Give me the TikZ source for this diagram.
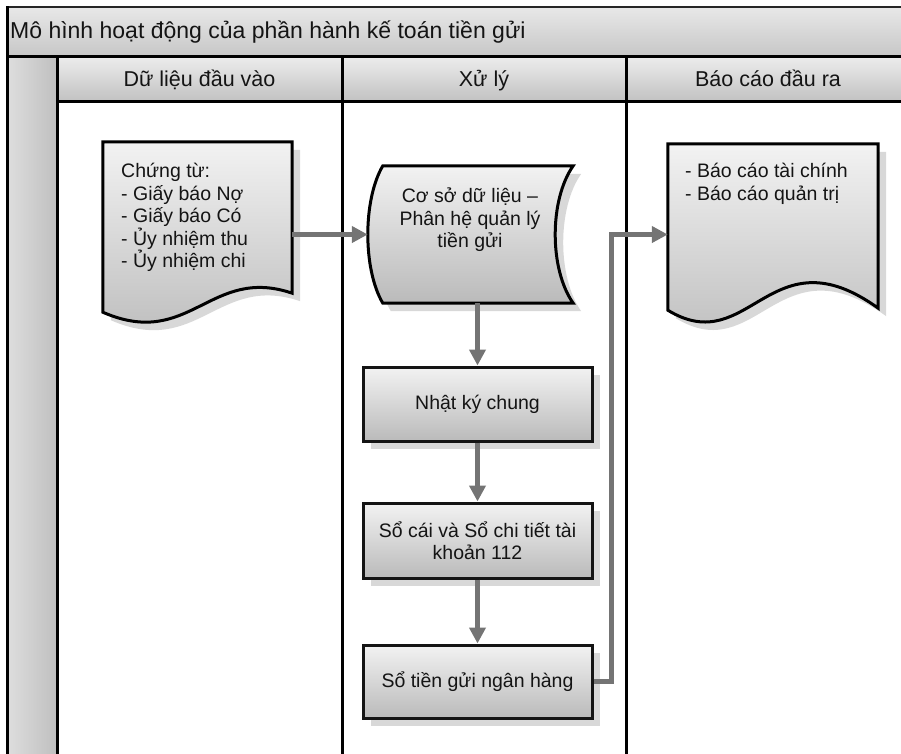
\documentclass[tikz,border=0pt]{standalone}
\usepackage{fontspec}
\setmainfont{Liberation Sans}
\usepackage{tikz}
\usetikzlibrary{arrows.meta,calc,positioning}
\definecolor{fgray}{HTML}{747474}
\definecolor{sgray}{HTML}{D8D8D8}
\tikzset{
  >={Triangle[length=16pt,width=16pt]},
  lline/.style={black, line width=3pt},
  ltitle/.style={top color=black!9, bottom color=black!22},
  lhead/.style={top color=black!7, bottom color=black!24},
  lside/.style={left color=black!13, right color=black!25},
  ftitle/.style={black!92, font=\fontsize{23}{26}\selectfont, inner sep=0pt},
  fhead/.style={black!92, font=\fontsize{21.5}{24}\selectfont, inner sep=0pt, anchor=base},
  fbody/.style={black!92, font=\fontsize{19.5}{22.5}\selectfont, align=left, inner sep=0pt},
  pshadow/.style={fill=sgray, draw=none, transform canvas={xshift=8pt, yshift=-8pt}},
  pshape/.style={draw=black, line width=3pt, top color=black!5, bottom color=black!27},
  pbox/.style={rectangle, pshape, minimum width=229, minimum height=74,
               align=center, inner sep=4pt, black!92, font=\fontsize{19.5}{22.5}\selectfont},
  pframe/.style={rectangle, draw=none, inner sep=0pt},
  pflow/.style={->, draw=fgray, line width=4.5pt},
}

\begin{document}
\begin{tikzpicture}[x=1pt,y=-1pt]
  \useasboundingbox (0,0) rectangle (901,753);

  % khung: tieu de, cot trai, cac lan
  \path[lside] (7,56) rectangle (57,760);
  \path[ltitle] (7,7) rectangle (910,56);
  \node[ftitle, anchor=west] (tieude) at (10,32) {Mô hình hoạt động của phần hành kế toán tiền gửi};
  \foreach \xa/\xb/\tenlan [count=\i] in {%
      57/342/{Dữ liệu đầu vào},
      342/626/{Xử lý},
      626/910/{Báo cáo đầu ra}}
  {
    \path[lhead] (\xa,56) rectangle (\xb,101);
    \node[fhead] (lan\i) at ({(\xa+\xb)/2},86) {\tenlan};
  }
  \draw[black!85, line width=2pt] (7,7) -- (910,7);
  \draw[lline] (7,56) -- (910,56);
  \draw[lline] (57,101) -- (910,101);
  \draw[lline] (7,6) -- (7,760);
  \foreach \x in {57,342,626}
    \draw[lline] (\x,56) -- (\x,760);

  % chung tu (van ban)
  \node[pframe, minimum width=189, minimum height=170] (chungtu) at (197.5,227) {};
  \path[pshadow] (chungtu.north west) -- (chungtu.north east) -- ($(chungtu.south east)+(0,-19)$)
    .. controls ($(chungtu.south west)+(107,-47)$) and ($(chungtu.south west)+(87,38)$) .. (chungtu.south west) -- cycle;
  \path[pshape] (chungtu.north west) -- (chungtu.north east) -- ($(chungtu.south east)+(0,-19)$)
    .. controls ($(chungtu.south west)+(107,-47)$) and ($(chungtu.south west)+(87,38)$) .. (chungtu.south west) -- cycle;
  \node[fbody, anchor=north west] (chungtu-txt) at (121,163)
    {Chứng từ:\\- Giấy báo Nợ\\- Giấy báo Có\\- Ủy nhiệm thu\\- Ủy nhiệm chi};

  % co so du lieu
  \node[pframe, minimum width=205, minimum height=137] (csdl) at (470.5,234.5) {};
  \path[pshadow] ($(csdl.north west)+(15,0)$) -- (csdl.north east)
    .. controls ($(csdl.north east)+(-24,34)$) and ($(csdl.south east)+(-24,-34)$) .. (csdl.south east)
    -- ($(csdl.south west)+(15,0)$)
    .. controls ($(csdl.south west)+(-5,-34)$) and ($(csdl.north west)+(-5,34)$) .. cycle;
  \path[pshape] ($(csdl.north west)+(15,0)$) -- (csdl.north east)
    .. controls ($(csdl.north east)+(-24,34)$) and ($(csdl.south east)+(-24,-34)$) .. (csdl.south east)
    -- ($(csdl.south west)+(15,0)$)
    .. controls ($(csdl.south west)+(-5,-34)$) and ($(csdl.north west)+(-5,34)$) .. cycle;
  \node[fbody, align=center] (csdl-txt) at (470,220) {Cơ sở dữ liệu –\\Phân hệ quản lý\\tiền gửi};

  % cac so
  \foreach \y/\h in {404/74, 540.5/75, 681.5/73}
    \path[pshadow] (363,{\y-\h/2}) rectangle (592,{\y+\h/2});
  \node[pbox] (nkc) at (477.5,404) {Nhật ký chung};
  \node[pbox, minimum height=75] (socai) at (477.5,540.5) {Sổ cái và Sổ chi tiết tài\\khoản 112};
  \node[pbox, minimum height=73] (sotg) at (477.5,681.5) {Sổ tiền gửi ngân hàng};

  % bao cao (van ban)
  \node[pframe, minimum width=210, minimum height=166] (baocao) at (773,227) {};
  \path[pshadow] (baocao.north west) -- (baocao.north east) -- ($(baocao.south east)+(0,-2)$)
    .. controls ($(baocao.south west)+(102,-80)$) and ($(baocao.south west)+(82,50)$) .. (baocao.south west) -- cycle;
  \path[pshape] (baocao.north west) -- (baocao.north east) -- ($(baocao.south east)+(0,-2)$)
    .. controls ($(baocao.south west)+(102,-80)$) and ($(baocao.south west)+(82,50)$) .. (baocao.south west) -- cycle;
  \node[fbody, anchor=north west] (baocao-txt) at (685,163)
    {- Báo cáo tài chính\\- Báo cáo quản trị};

  % luong
  \draw[pflow] (chungtu.east |- csdl.west) -- (csdl.west);
  \draw[pflow] (nkc.north |- csdl.south) -- (nkc.north);
  \draw[pflow] (nkc) -- (socai);
  \draw[pflow] (socai) -- (sotg);
  \draw[pflow] (sotg.east) -- ++(18,0) |- (baocao.west |- csdl.west);

\end{tikzpicture}
\end{document}
